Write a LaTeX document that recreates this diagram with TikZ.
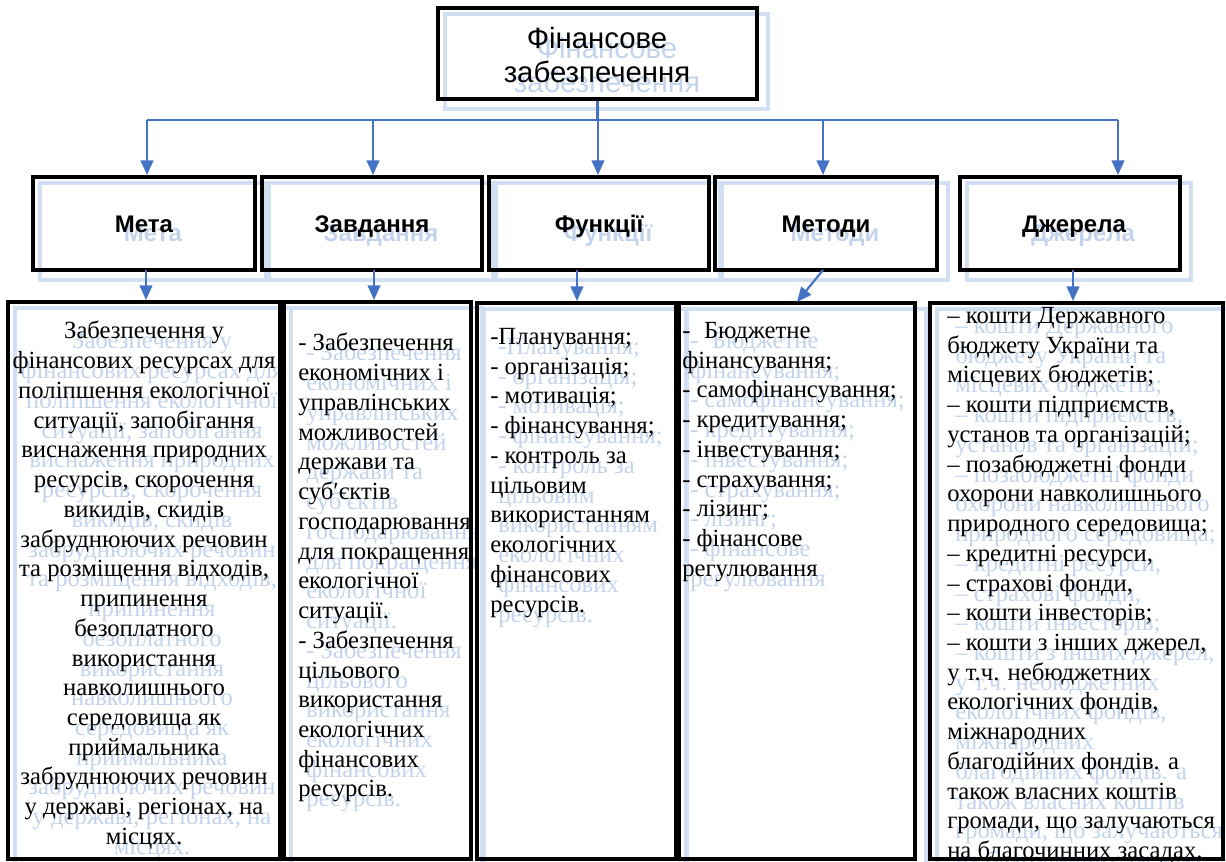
\documentclass[tikz,border=0pt]{standalone}
\usepackage{fontspec}
\setmainfont{Liberation Serif}
\setsansfont{Liberation Sans}
\usetikzlibrary{fit,arrows.meta,calc}
\pgfdeclarelayer{bg}
\pgfsetlayers{bg,main}
\definecolor{arrowblue}{RGB}{68,114,196}
\definecolor{shline}{RGB}{210,222,241}
\definecolor{shtext}{RGB}{196,211,236}

\newcommand\txtTop{Фінансове\\забезпечення}
\newcommand\txtA{Забезпечення у\\фінансових ресурсах для\\поліпшення екологічної\\ситуації, запобігання\\виснаження природних\\ресурсів, скорочення\\викидів, скидів\\забруднюючих речовин\\та розміщення відходів,\\припинення\\безоплатного\\використання\\навколишнього\\середовища як\\приймальника\\забруднюючих речовин\\у державі, регіонах, на\\місцях.}
\newcommand\txtB{- Забезпечення\\економічних і\\управлінських\\можливостей\\держави та\\суб′єктів\\господарювання\\для покращення\\екологічної\\ситуації.\\- Забезпечення\\цільового\\використання\\екологічних\\фінансових\\ресурсів.}
\newcommand\txtC{-Планування;\\- організація;\\- мотивація;\\- фінансування;\\- контроль за\\цільовим\\використанням\\екологічних\\фінансових\\ресурсів.}
\newcommand\txtD{-\hspace{0.55em}Бюджетне\\фінансування;\\- самофінансування;\\- кредитування;\\- інвестування;\\- страхування;\\- лізинг;\\- фінансове\\регулювання}
\newcommand\txtE{– кошти Державного\\бюджету України та\\місцевих бюджетів;\\– кошти підприємств,\\установ та організацій;\\– позабюджетні фонди\\охорони навколишнього\\природного середовища;\\– кредитні ресурси,\\– страхові фонди,\\– кошти інвесторів;\\– кошти з інших джерел,\\у т.ч. небюджетних\\екологічних фондів,\\міжнародних\\благодійних фондів. а\\також власних коштів\\громади, що залучаються\\на благочинних засадах.}

\begin{document}
\begin{tikzpicture}[x=0.75pt,y=-0.75pt,
  box/.style={draw=black, line width=3pt, inner sep=0pt},
  shbox/.style={draw=shline, line width=3pt},
  conn/.style={draw=arrowblue, line width=1.6pt},
  arr/.style={conn, -{Triangle[length=11pt,width=9.5pt]}},
  toptext/.style={font=\sffamily\fontsize{22}{25.5}\selectfont, align=center, inner sep=0pt},
  lbl/.style={font=\sffamily\bfseries\fontsize{18}{21}\selectfont, inner sep=0pt},
  bodyc/.style={font=\fontsize{18.5}{22.3}\selectfont, align=center, inner sep=0pt},
  bodyl/.style={font=\fontsize{18.5}{22.3}\selectfont, align=left, inner sep=0pt},
  sh/.style={text=shtext}]
\useasboundingbox (0,0) rectangle (1226,861);
\clip (0,0) rectangle (1226,861);

% boxes
\node[box, fit={(438,8)(757,99)}] (top) {};
\node[box, fit={(33,177)(255,270)}] (meta) {};
\node[box, fit={(262,177)(482,270)}] (zavd) {};
\node[box, fit={(489,177)(709,270)}] (func) {};
\node[box, fit={(715,177)(937,270)}] (metod) {};
\node[box, fit={(960,177)(1180,270)}] (dzher) {};
\node[box, fit={(8,302)(280,859)}] (t1) {};
\node[box, fit={(284,302)(471,859)}] (t2) {};
\node[box, fit={(477,303)(676,859)}] (t3) {};
\node[box, fit={(679,303)(915,859)}] (t4) {};
\node[box, fit={(930,303)(1223,859)}] (t5) {};

% texts
\node[toptext, anchor=north] (toptx) at (597,27) {\txtTop};
\node[lbl, anchor=base] (metatx) at (144,232) {Мета};
\node[lbl, anchor=base] (zavdtx) at (372,232) {Завдання};
\node[lbl, anchor=base] (functx) at (599,232) {Функції};
\node[lbl, anchor=base] (metodtx) at (826,232) {Методи};
\node[lbl, anchor=base] (dzhertx) at (1074,232) {Джерела};
\node[bodyc, anchor=north] (x1) at (144,321) {\txtA};
\node[bodyl, anchor=north west] (x2) at (298,333) {\txtB};
\node[bodyl, anchor=north west] (x3) at (490,328) {\txtC};
\node[bodyl, anchor=north west] (x4) at (682,322) {\txtD};
\node[bodyl, anchor=north west] (x5) at (947,307) {\txtE};

% reflections
\begin{pgfonlayer}{bg}
\foreach \n in {top,meta,zavd,func,metod,dzher,t1,t2,t3,t4,t5}
  \draw[shbox] ([shift={(9,8)}]\n.north west) rectangle ([shift={(9,8)}]\n.south east);
\node[toptext, sh, anchor=north] (toptxs) at ([shift={(10,10)}]toptx.north) {\txtTop};
\node[lbl, sh, anchor=base] (metatxs) at ([shift={(9,9)}]metatx.base) {Мета};
\node[lbl, sh, anchor=base] (zavdtxs) at ([shift={(9,9)}]zavdtx.base) {Завдання};
\node[lbl, sh, anchor=base] (functxs) at ([shift={(9,9)}]functx.base) {Функції};
\node[lbl, sh, anchor=base] (metodtxs) at ([shift={(9,9)}]metodtx.base) {Методи};
\node[lbl, sh, anchor=base] (dzhertxs) at ([shift={(9,9)}]dzhertx.base) {Джерела};
\node[bodyc, sh, anchor=north] (x1s) at ([shift={(8,10)}]x1.north) {\txtA};
\node[bodyl, sh, anchor=north west] (x2s) at ([shift={(8,10)}]x2.north west) {\txtB};
\node[bodyl, sh, anchor=north west] (x3s) at ([shift={(8,10)}]x3.north west) {\txtC};
\node[bodyl, sh, anchor=north west] (x4s) at ([shift={(8,10)}]x4.north west) {\txtD};
\node[bodyl, sh, anchor=north west] (x5s) at ([shift={(8,10)}]x5.north west) {\txtE};
\end{pgfonlayer}

% connectors
\coordinate (j1) at (147,120);
\coordinate (j2) at (373,120);
\coordinate (j3) at (598,120);
\coordinate (j4) at (823,120);
\coordinate (j5) at (1118,120);
\draw[conn] (top.south) -- (top.south |- j1);
\draw[conn] (j1) -- (j5);
\draw[arr] (j1) -- (j1 |- meta.north);
\draw[arr] (j2) -- (j2 |- zavd.north);
\draw[arr] (j3) -- (j3 |- func.north);
\draw[arr] (j4) -- (j4 |- metod.north);
\draw[arr] (j5) -- (j5 |- dzher.north);

\coordinate (k1) at (146,270);
\coordinate (k2) at (374,270);
\coordinate (k3) at (577,270);
\coordinate (k4) at (823,270);
\coordinate (k4e) at (797,302);
\coordinate (k5) at (1073,270);
\draw[arr] (k1) -- (k1 |- t1.north);
\draw[arr] (k2) -- (k2 |- t2.north);
\draw[arr] (k3) -- (k3 |- t3.north);
\draw[arr] (k4) -- (k4e);
\draw[arr] (k5) -- (k5 |- t5.north);
\end{tikzpicture}
\end{document}
